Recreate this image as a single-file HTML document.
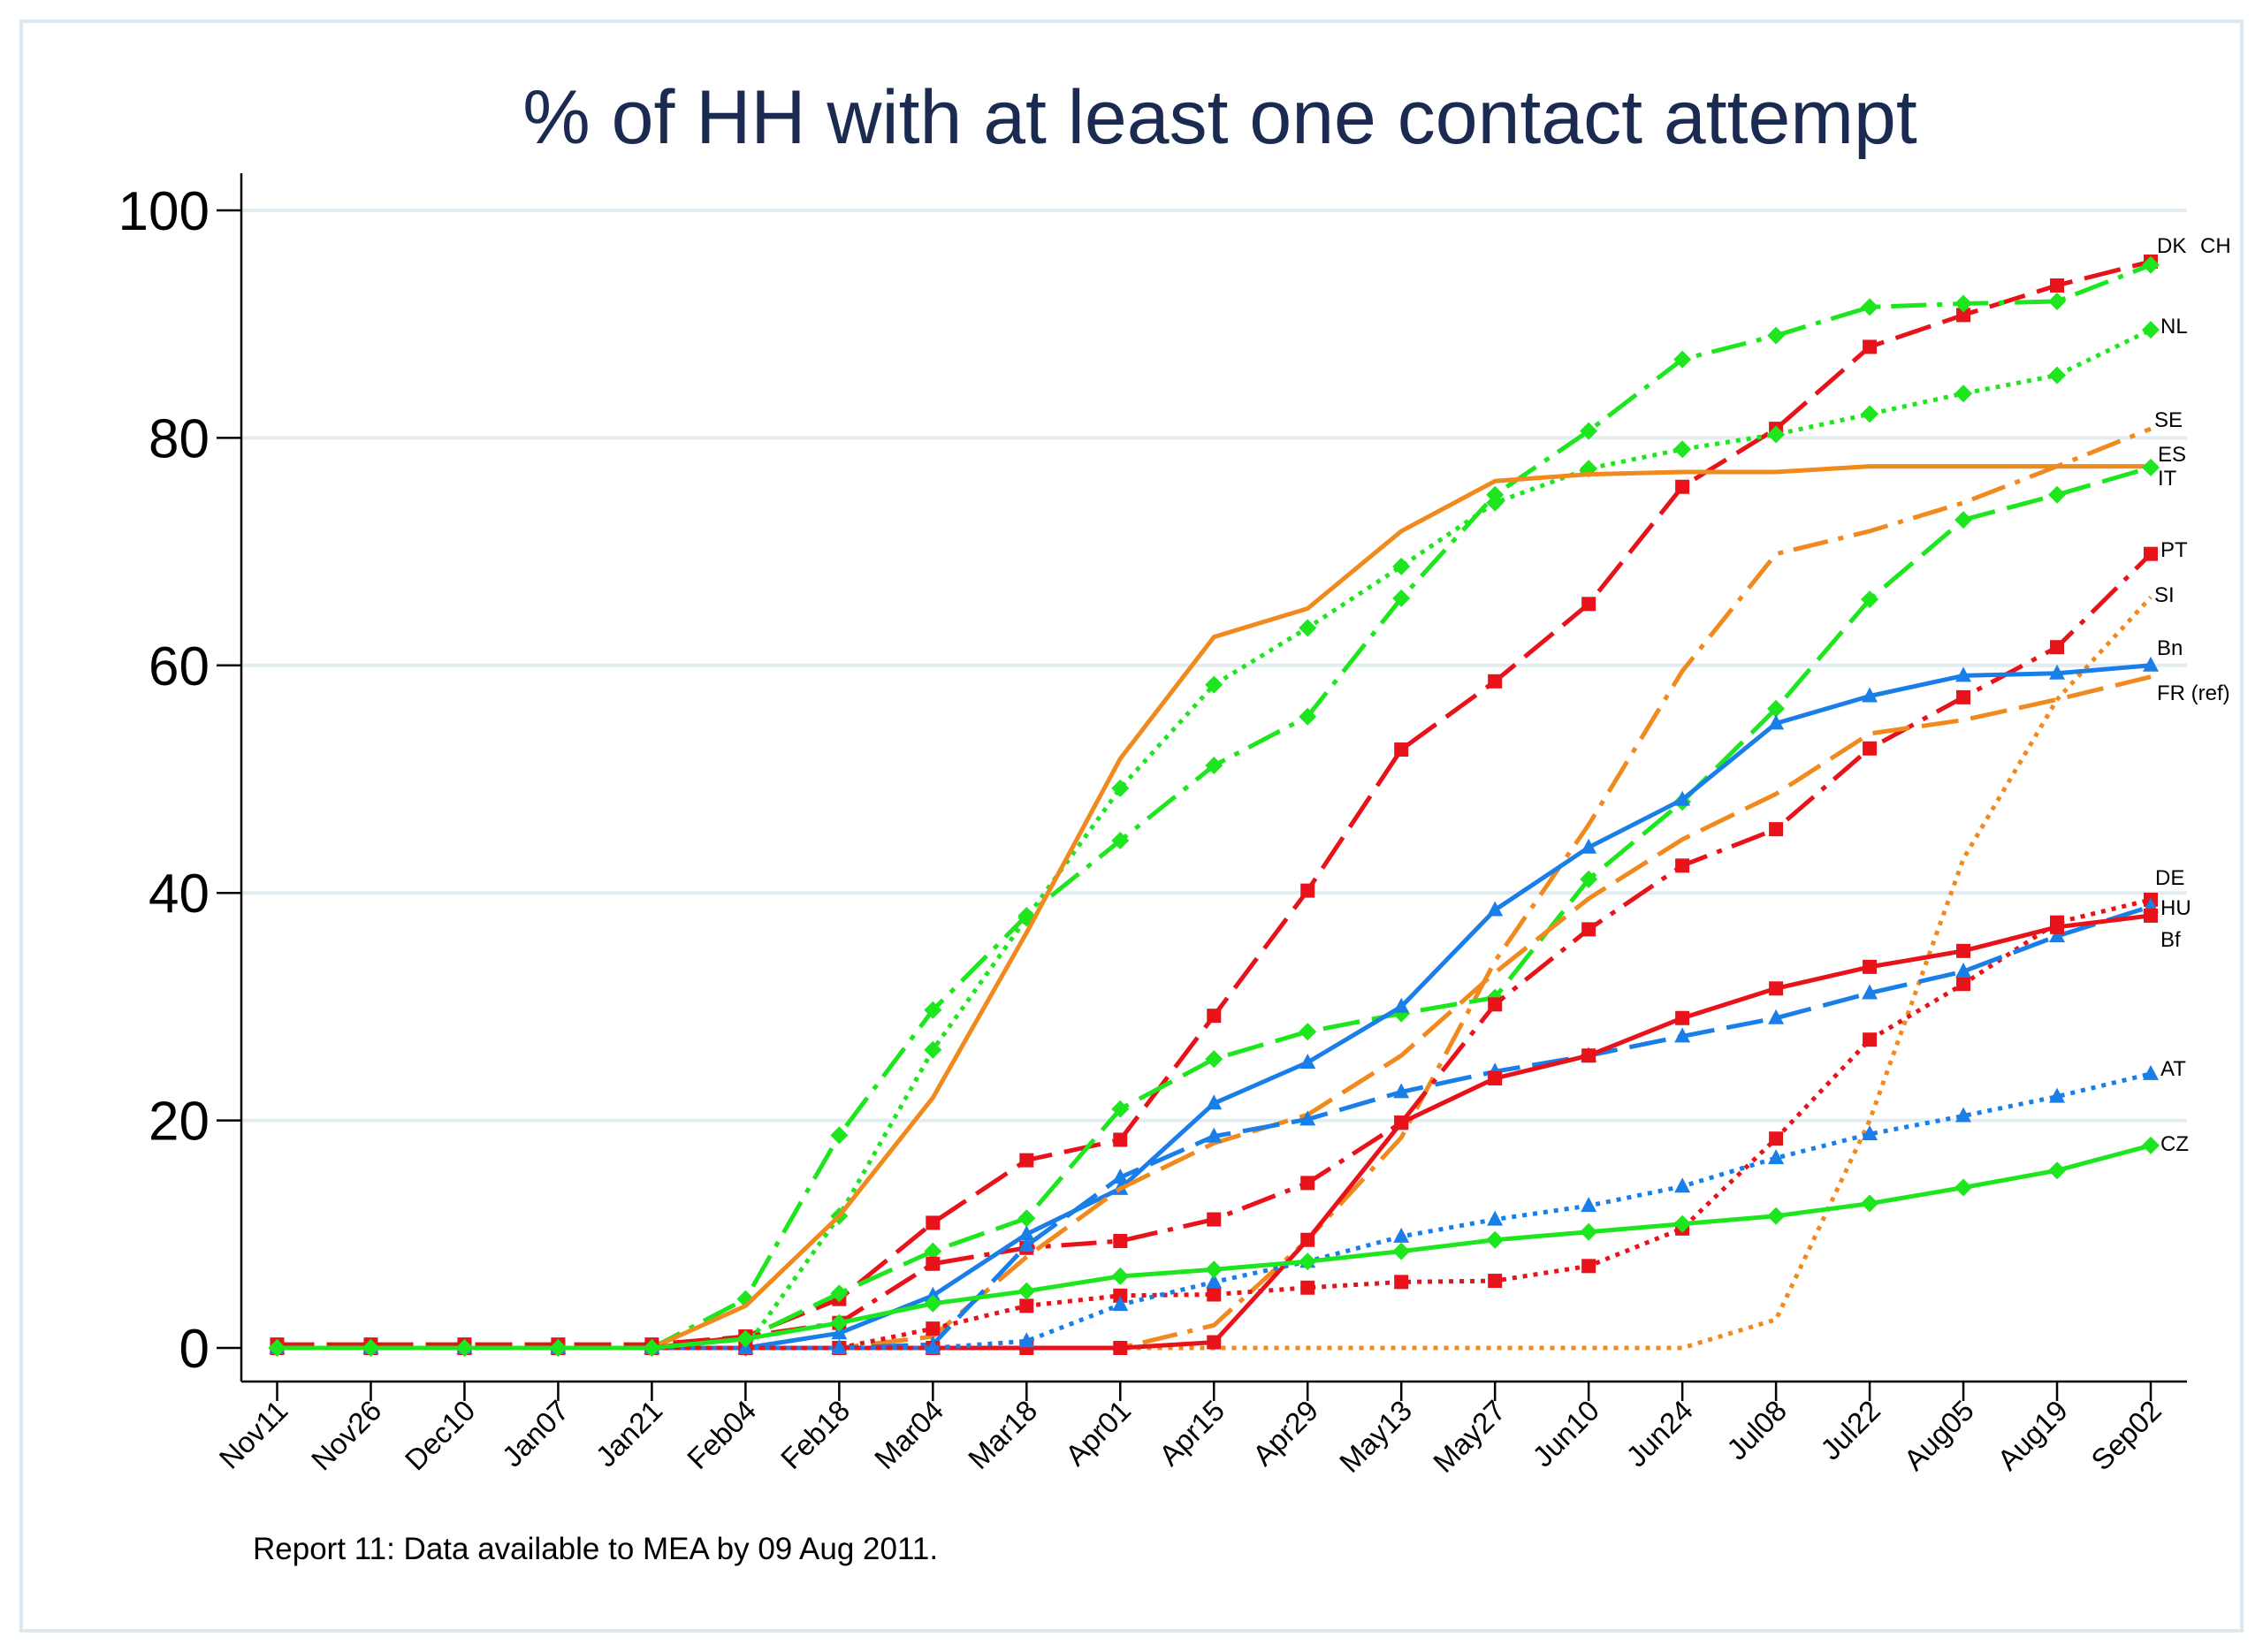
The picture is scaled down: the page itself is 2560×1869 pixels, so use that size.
<!DOCTYPE html>
<html><head><meta charset="utf-8"><style>
html,body{margin:0;padding:0;background:#fff;}
svg{display:block;font-family:"Liberation Sans",Arial,sans-serif;}
</style></head><body>
<svg id="chart" width="2560" height="1869" viewBox="0 0 2560 1869" xmlns="http://www.w3.org/2000/svg">
<rect x="24" y="24" width="2512" height="1821" fill="#fff" stroke="#dde8ee" stroke-width="4"/>
<text x="1380" y="162" text-anchor="middle" font-size="86" fill="#1a2a50">% of HH with at least one contact attempt</text>
<g id="grid"></g>
<g id="axes"></g>
<g id="series"></g>
<g id="labels"></g>
<text x="286" y="1764" font-size="35" fill="#000">Report 11: Data available to MEA by 09 Aug 2011.</text>
</svg>
<script>
const categories=["Nov11","Nov26","Dec10","Jan07","Jan21","Feb04","Feb18","Mar04","Mar18","Apr01","Apr15","Apr29","May13","May27","Jun10","Jun24","Jul08","Jul22","Aug05","Aug19","Sep02"];
const yTicks=[0,20,40,60,80,100];
const dkValues=[0.3,0.3,0.3,0.3,0.3,1,4.3,11,16.5,18.3,29.2,40.2,52.6,58.6,65.4,75.7,80.8,88,90.8,93.4,95.5];
const chValues=[0,0,0,0,0,4.3,18.7,29.7,38,44.6,51.2,55.5,65.9,75,80.6,86.9,89,91.5,91.8,92,95.2];
const nlValues=[0,0,0,0,0,0,11.6,26.2,37.8,49.2,58.3,63.3,68.7,74.3,77.3,79,80.3,82.1,83.9,85.5,89.5];
const seValues=[0,0,0,0,0,0,0,0,0,0,2,9.5,18.5,34,46,59.5,69.8,71.8,74.3,77.5,80.8];
const esValues=[0,0,0,0,0,3.7,11.6,22,36.5,51.8,62.5,65,71.8,76.2,76.8,77,77,77.5,77.5,77.5,77.5];
const itValues=[0,0,0,0,0,0.8,4.8,8.5,11.4,21,25.4,27.8,29.4,30.8,41.2,48,56.2,65.8,72.8,75,77.4];
const ptValues=[0,0,0,0,0,1,2.2,7.4,8.8,9.4,11.3,14.5,19.8,30.2,36.8,42.4,45.6,52.7,57.2,61.6,69.8];
const siValues=[0,0,0,0,0,0,0,0,0,0,0,0,0,0,0,0,2.5,20,43,57,66];
const bnValues=[0,0,0,0,0,0,1.3,4.6,10,14,21.5,25.1,30,38.5,44,48.2,54.9,57.3,59.1,59.3,60];
const frValues=[0,0,0,0,0,0,0,1,8,14,18,20.5,25.7,33,39.5,44.7,48.7,54,55.2,57,59];
const deValues=[0,0,0,0,0,0,0,1.7,3.7,4.6,4.7,5.3,5.8,5.9,7.2,10.5,18.4,27.1,32,37.4,39.4];
const huValues=[0,0,0,0,0,0,0,0.3,9,15,18.6,20.1,22.5,24.3,25.7,27.4,29,31.2,33.1,36.2,38.8];
const bfValues=[0,0,0,0,0,0,0,0,0,0,0.5,9.5,19.8,23.7,25.7,29,31.6,33.5,34.9,37,38];
const atValues=[0,0,0,0,0,0,0,0,0.6,3.8,5.8,7.6,9.8,11.3,12.5,14.2,16.7,18.8,20.4,22.1,24.1];
const czValues=[0,0,0,0,0,0.8,2.2,3.9,5,6.3,6.9,7.6,8.5,9.5,10.2,10.9,11.6,12.7,14.1,15.6,17.8];
const seriesNames=["DK","CH","NL","SE","ES","IT","PT","SI","Bn","FR (ref)","DE","HU","Bf","AT","CZ"];

const NS="http://www.w3.org/2000/svg";
const X0=313.5,X1=2433,Y0=1525,Y100=238;
const xScale=i=>X0+(X1-X0)*i/(categories.length-1);
const yScale=v=>Y0+(Y100-Y0)*v/100;
function mk(tag,attrs,parent){const e=document.createElementNS(NS,tag);for(const k in attrs)e.setAttribute(k,attrs[k]);parent.appendChild(e);return e;}

const grid=document.getElementById('grid'),axes=document.getElementById('axes'),ser=document.getElementById('series'),lab=document.getElementById('labels');
yTicks.forEach(t=>{
  if(t>0){const g=mk('line',{x1:273,x2:2474,y1:yScale(t),y2:yScale(t),stroke:'#e2ecf1','stroke-width':4},grid);
  
  }
  const tk=mk('line',{x1:245,x2:273,y1:yScale(t),y2:yScale(t),stroke:'#000','stroke-width':2.5},axes);
  
  
  const tl=mk('text',{x:237,y:yScale(t)+22,'text-anchor':'end','font-size':62,fill:'#000'},axes);
  tl.textContent=t;
  
  
});
const ya=mk('line',{x1:273,x2:273,y1:196,y2:1563,stroke:'#000','stroke-width':2.5},axes);


const xa=mk('line',{x1:273,x2:2474,y1:1563,y2:1563,stroke:'#000','stroke-width':2.5},axes);


categories.forEach((c,i)=>{
  const x=xScale(i);
  const tk=mk('line',{x1:x,x2:x,y1:1563,y2:1585,stroke:'#000','stroke-width':2.5},axes);
  
  
  const tl=mk('text',{x:x+14,y:1598,'text-anchor':'end','font-size':33,fill:'#000',transform:`rotate(-45 ${x+14} 1598)`},axes);
  tl.textContent=c;
  
  
});

const RED='#e8121a',GRN='#1ee61e',ORG='#f08a1e',BLU='#1a7ee8';
const LONG='42 14',DDOT='40 12 6 12',DOT='5 7',MED='26 12';
const defs=[
 [dkValues,RED,LONG,'sq','DK'],
 [chValues,GRN,DDOT,'dm','CH'],
 [nlValues,GRN,DOT,'dm','NL'],
 [seValues,ORG,DDOT,null,'SE'],
 [esValues,ORG,null,null,'ES'],
 [itValues,GRN,LONG,'dm','IT'],
 [ptValues,RED,DDOT,'sq','PT'],
 [siValues,ORG,DOT,null,'SI'],
 [bnValues,BLU,null,'tr','Bn'],
 [frValues,ORG,LONG,null,'FR (ref)'],
 [deValues,RED,DOT,'sq','DE'],
 [huValues,BLU,LONG,'tr','HU'],
 [bfValues,RED,null,'sq','Bf'],
 [atValues,BLU,DOT,'tr','AT'],
 [czValues,GRN,null,'dm','CZ']
];
defs.forEach(([vals,col,dash,mkType,name])=>{
  const id=name.toLowerCase().replace(/[^a-z]+/g,'-').replace(/-$/,'');
  const g=mk('g',{},ser);
  
  
  const pts=vals.map((v,i)=>xScale(i).toFixed(1)+','+yScale(v).toFixed(1)).join(' ');
  const a={points:pts,fill:'none',stroke:col,'stroke-width':5,'stroke-linejoin':'round'};
  if(dash)a['stroke-dasharray']=dash;
  const pl=mk('polyline',a,g);
  
  
  if(mkType){vals.forEach((v,i)=>{
    const x=xScale(i),y=yScale(v);let m;
    if(mkType==='sq')m=mk('rect',{x:x-8,y:y-8,width:16,height:16,fill:col},g);
    else if(mkType==='dm')m=mk('polygon',{points:`${x},${y-10} ${x+10},${y} ${x},${y+10} ${x-10},${y}`,fill:col},g);
    else m=mk('polygon',{points:`${x},${y-10} ${x+9},${y+7} ${x-9},${y+7}`,fill:col},g);
    
    
  });}
});
const labelPos=[["DK",2440,286],["CH",2489,286],["NL",2444,377],["SE",2437,483],["ES",2441,522],["IT",2441,549],["PT",2444,630],["SI",2437,681],["Bn",2440,741],["FR (ref)",2440,792],["DE",2438,1001],["HU",2444,1035],["Bf",2444,1071],["AT",2444,1217],["CZ",2444,1302]];
labelPos.forEach(([t,x,y])=>{
  const e=mk('text',{x:x,y:y,'font-size':24,fill:'#000'},lab);
  e.textContent=t;
  
  
});
</script>
</body></html>
